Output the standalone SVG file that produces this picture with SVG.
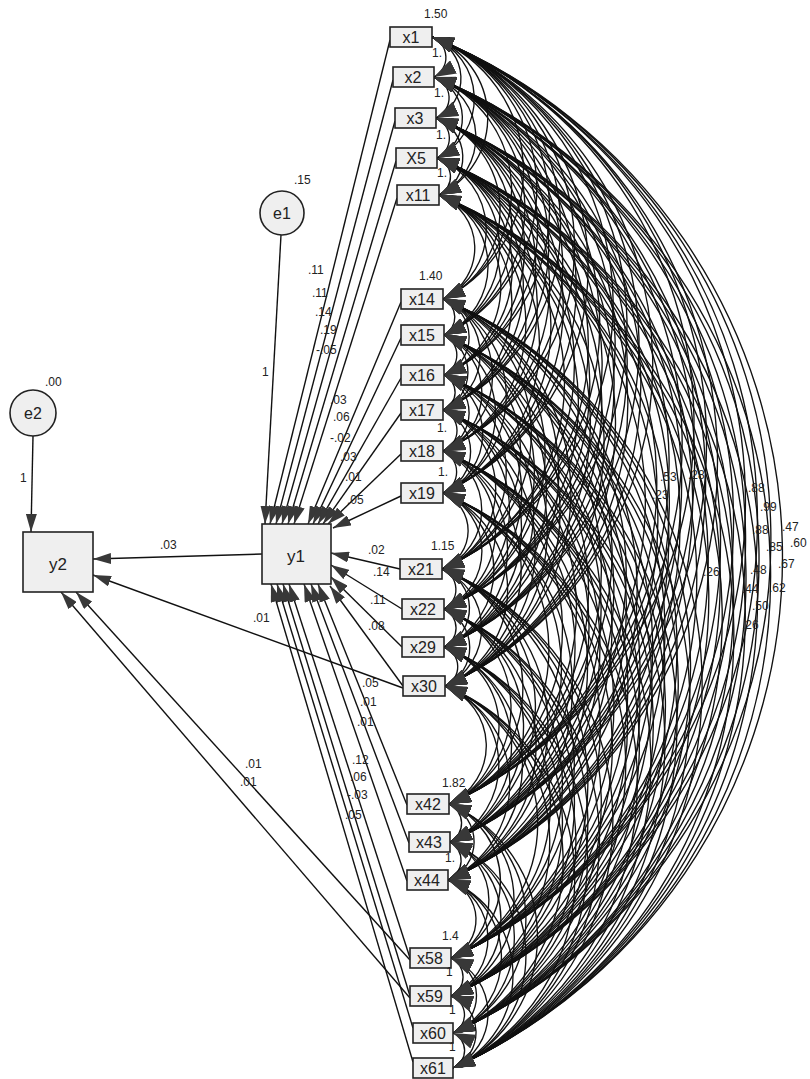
<svg xmlns="http://www.w3.org/2000/svg" width="810" height="1079" viewBox="0 0 810 1079">
<defs>
<marker id="ah" viewBox="0 0 22 15" refX="22" refY="7.5" markerWidth="22" markerHeight="15" markerUnits="userSpaceOnUse" orient="auto-start-reverse"><path d="M0 0L22 7.5L0 15z" fill="#383838"/></marker>
<marker id="ap" viewBox="0 0 18 11" refX="18" refY="5.5" markerWidth="18" markerHeight="11" markerUnits="userSpaceOnUse" orient="auto"><path d="M0 0L18 5.5L0 11z" fill="#383838"/></marker>
</defs>
<style>
.c path{fill:none;stroke:#111;stroke-width:1.35;marker-start:url(#ah);marker-end:url(#ah)}
.p path{fill:none;stroke:#111;stroke-width:1.4;marker-end:url(#ap)}
.box{fill:#efefef;stroke:#222;stroke-width:1.6}
.ell{fill:#efefef;stroke:#222;stroke-width:1.6}
.lb{font-family:"Liberation Sans",Arial,sans-serif;font-size:16px;fill:#222;text-anchor:middle}
.big{font-family:"Liberation Sans",Arial,sans-serif;font-size:17px;fill:#222;text-anchor:middle}
.n{font-family:"Liberation Sans",Arial,sans-serif;font-size:12px;fill:#222}
</style>
<rect width="810" height="1079" fill="#fff"/>
<g id="connectors">
<g id="covariances" class="c">
<path d="M432 37A22 22 0 0 1 434 77"/><path d="M432 37A44 44 0 0 1 436 118"/><path d="M432 37A66 66 0 0 1 437 158"/><path d="M432 37A86 86 0 0 1 439 195"/><path d="M432 37A143 143 0 0 1 443 299"/><path d="M432 37A162 162 0 0 1 444 335"/><path d="M432 37A184 184 0 0 1 444 375"/><path d="M432 37A203 203 0 0 1 443 410"/><path d="M432 37A225 225 0 0 1 443 451"/><path d="M432 37A248 248 0 0 1 443 493"/><path d="M432 37A289 289 0 0 1 442 569"/><path d="M432 37A311 311 0 0 1 444 609"/><path d="M432 37A332 332 0 0 1 444 647"/><path d="M432 37A353 353 0 0 1 445 686"/><path d="M432 37A417 417 0 0 1 449 804"/><path d="M432 37A438 438 0 0 1 450 842"/><path d="M432 37A459 459 0 0 1 448 880"/><path d="M432 37A501 501 0 0 1 451 958"/><path d="M432 37A522 522 0 0 1 451 996"/><path d="M432 37A542 542 0 0 1 453 1033"/><path d="M432 37A561 561 0 0 1 453 1068"/>
<path d="M434 77A22 22 0 0 1 436 118"/><path d="M434 77A44 44 0 0 1 437 158"/><path d="M434 77A64 64 0 0 1 439 195"/><path d="M434 77A121 121 0 0 1 443 299"/><path d="M434 77A140 140 0 0 1 444 335"/><path d="M434 77A162 162 0 0 1 444 375"/><path d="M434 77A181 181 0 0 1 443 410"/><path d="M434 77A203 203 0 0 1 443 451"/><path d="M434 77A226 226 0 0 1 443 493"/><path d="M434 77A268 268 0 0 1 442 569"/><path d="M434 77A289 289 0 0 1 444 609"/><path d="M434 77A310 310 0 0 1 444 647"/><path d="M434 77A331 331 0 0 1 445 686"/><path d="M434 77A395 395 0 0 1 449 804"/><path d="M434 77A416 416 0 0 1 450 842"/><path d="M434 77A437 437 0 0 1 448 880"/><path d="M434 77A479 479 0 0 1 451 958"/><path d="M434 77A500 500 0 0 1 451 996"/><path d="M434 77A520 520 0 0 1 453 1033"/><path d="M434 77A539 539 0 0 1 453 1068"/>
<path d="M436 118A22 22 0 0 1 437 158"/><path d="M436 118A42 42 0 0 1 439 195"/><path d="M436 118A98 98 0 0 1 443 299"/><path d="M436 118A118 118 0 0 1 444 335"/><path d="M436 118A140 140 0 0 1 444 375"/><path d="M436 118A159 159 0 0 1 443 410"/><path d="M436 118A181 181 0 0 1 443 451"/><path d="M436 118A204 204 0 0 1 443 493"/><path d="M436 118A245 245 0 0 1 442 569"/><path d="M436 118A267 267 0 0 1 444 609"/><path d="M436 118A288 288 0 0 1 444 647"/><path d="M436 118A309 309 0 0 1 445 686"/><path d="M436 118A373 373 0 0 1 449 804"/><path d="M436 118A394 394 0 0 1 450 842"/><path d="M436 118A415 415 0 0 1 448 880"/><path d="M436 118A457 457 0 0 1 451 958"/><path d="M436 118A478 478 0 0 1 451 996"/><path d="M436 118A498 498 0 0 1 453 1033"/><path d="M436 118A517 517 0 0 1 453 1068"/>
<path d="M437 158A20 20 0 0 1 439 195"/><path d="M437 158A77 77 0 0 1 443 299"/><path d="M437 158A96 96 0 0 1 444 335"/><path d="M437 158A118 118 0 0 1 444 375"/><path d="M437 158A137 137 0 0 1 443 410"/><path d="M437 158A159 159 0 0 1 443 451"/><path d="M437 158A182 182 0 0 1 443 493"/><path d="M437 158A224 224 0 0 1 442 569"/><path d="M437 158A245 245 0 0 1 444 609"/><path d="M437 158A266 266 0 0 1 444 647"/><path d="M437 158A287 287 0 0 1 445 686"/><path d="M437 158A351 351 0 0 1 449 804"/><path d="M437 158A372 372 0 0 1 450 842"/><path d="M437 158A393 393 0 0 1 448 880"/><path d="M437 158A435 435 0 0 1 451 958"/><path d="M437 158A456 456 0 0 1 451 996"/><path d="M437 158A476 476 0 0 1 453 1033"/><path d="M437 158A495 495 0 0 1 453 1068"/>
<path d="M439 195A57 57 0 0 1 443 299"/><path d="M439 195A76 76 0 0 1 444 335"/><path d="M439 195A98 98 0 0 1 444 375"/><path d="M439 195A117 117 0 0 1 443 410"/><path d="M439 195A139 139 0 0 1 443 451"/><path d="M439 195A162 162 0 0 1 443 493"/><path d="M439 195A203 203 0 0 1 442 569"/><path d="M439 195A225 225 0 0 1 444 609"/><path d="M439 195A246 246 0 0 1 444 647"/><path d="M439 195A267 267 0 0 1 445 686"/><path d="M439 195A331 331 0 0 1 449 804"/><path d="M439 195A352 352 0 0 1 450 842"/><path d="M439 195A373 373 0 0 1 448 880"/><path d="M439 195A415 415 0 0 1 451 958"/><path d="M439 195A436 436 0 0 1 451 996"/><path d="M439 195A456 456 0 0 1 453 1033"/><path d="M439 195A475 475 0 0 1 453 1068"/>
<path d="M443 299A20 20 0 0 1 444 335"/><path d="M443 299A41 41 0 0 1 444 375"/><path d="M443 299A60 60 0 0 1 443 410"/><path d="M443 299A83 83 0 0 1 443 451"/><path d="M443 299A106 106 0 0 1 443 493"/><path d="M443 299A147 147 0 0 1 442 569"/><path d="M443 299A169 169 0 0 1 444 609"/><path d="M443 299A189 189 0 0 1 444 647"/><path d="M443 299A211 211 0 0 1 445 686"/><path d="M443 299A275 275 0 0 1 449 804"/><path d="M443 299A295 295 0 0 1 450 842"/><path d="M443 299A316 316 0 0 1 448 880"/><path d="M443 299A358 358 0 0 1 451 958"/><path d="M443 299A379 379 0 0 1 451 996"/><path d="M443 299A399 399 0 0 1 453 1033"/><path d="M443 299A418 418 0 0 1 453 1068"/>
<path d="M444 335A22 22 0 0 1 444 375"/><path d="M444 335A41 41 0 0 1 443 410"/><path d="M444 335A63 63 0 0 1 443 451"/><path d="M444 335A86 86 0 0 1 443 493"/><path d="M444 335A127 127 0 0 1 442 569"/><path d="M444 335A149 149 0 0 1 444 609"/><path d="M444 335A170 170 0 0 1 444 647"/><path d="M444 335A191 191 0 0 1 445 686"/><path d="M444 335A255 255 0 0 1 449 804"/><path d="M444 335A276 276 0 0 1 450 842"/><path d="M444 335A296 296 0 0 1 448 880"/><path d="M444 335A339 339 0 0 1 451 958"/><path d="M444 335A360 360 0 0 1 451 996"/><path d="M444 335A380 380 0 0 1 453 1033"/><path d="M444 335A399 399 0 0 1 453 1068"/>
<path d="M444 375A19 19 0 0 1 443 410"/><path d="M444 375A41 41 0 0 1 443 451"/><path d="M444 375A64 64 0 0 1 443 493"/><path d="M444 375A106 106 0 0 1 442 569"/><path d="M444 375A127 127 0 0 1 444 609"/><path d="M444 375A148 148 0 0 1 444 647"/><path d="M444 375A169 169 0 0 1 445 686"/><path d="M444 375A233 233 0 0 1 449 804"/><path d="M444 375A254 254 0 0 1 450 842"/><path d="M444 375A275 275 0 0 1 448 880"/><path d="M444 375A317 317 0 0 1 451 958"/><path d="M444 375A338 338 0 0 1 451 996"/><path d="M444 375A358 358 0 0 1 453 1033"/><path d="M444 375A377 377 0 0 1 453 1068"/>
<path d="M443 410A22 22 0 0 1 443 451"/><path d="M443 410A45 45 0 0 1 443 493"/><path d="M443 410A86 86 0 0 1 442 569"/><path d="M443 410A108 108 0 0 1 444 609"/><path d="M443 410A129 129 0 0 1 444 647"/><path d="M443 410A150 150 0 0 1 445 686"/><path d="M443 410A214 214 0 0 1 449 804"/><path d="M443 410A235 235 0 0 1 450 842"/><path d="M443 410A256 256 0 0 1 448 880"/><path d="M443 410A298 298 0 0 1 451 958"/><path d="M443 410A319 319 0 0 1 451 996"/><path d="M443 410A339 339 0 0 1 453 1033"/><path d="M443 410A358 358 0 0 1 453 1068"/>
<path d="M443 451A23 23 0 0 1 443 493"/><path d="M443 451A64 64 0 0 1 442 569"/><path d="M443 451A86 86 0 0 1 444 609"/><path d="M443 451A107 107 0 0 1 444 647"/><path d="M443 451A128 128 0 0 1 445 686"/><path d="M443 451A192 192 0 0 1 449 804"/><path d="M443 451A213 213 0 0 1 450 842"/><path d="M443 451A233 233 0 0 1 448 880"/><path d="M443 451A276 276 0 0 1 451 958"/><path d="M443 451A296 296 0 0 1 451 996"/><path d="M443 451A317 317 0 0 1 453 1033"/><path d="M443 451A336 336 0 0 1 453 1068"/>
<path d="M443 493A41 41 0 0 1 442 569"/><path d="M443 493A63 63 0 0 1 444 609"/><path d="M443 493A84 84 0 0 1 444 647"/><path d="M443 493A105 105 0 0 1 445 686"/><path d="M443 493A169 169 0 0 1 449 804"/><path d="M443 493A190 190 0 0 1 450 842"/><path d="M443 493A211 211 0 0 1 448 880"/><path d="M443 493A253 253 0 0 1 451 958"/><path d="M443 493A274 274 0 0 1 451 996"/><path d="M443 493A294 294 0 0 1 453 1033"/><path d="M443 493A313 313 0 0 1 453 1068"/>
<path d="M442 569A22 22 0 0 1 444 609"/><path d="M442 569A42 42 0 0 1 444 647"/><path d="M442 569A64 64 0 0 1 445 686"/><path d="M442 569A128 128 0 0 1 449 804"/><path d="M442 569A149 149 0 0 1 450 842"/><path d="M442 569A169 169 0 0 1 448 880"/><path d="M442 569A212 212 0 0 1 451 958"/><path d="M442 569A232 232 0 0 1 451 996"/><path d="M442 569A252 252 0 0 1 453 1033"/><path d="M442 569A271 271 0 0 1 453 1068"/>
<path d="M444 609A21 21 0 0 1 444 647"/><path d="M444 609A42 42 0 0 1 445 686"/><path d="M444 609A106 106 0 0 1 449 804"/><path d="M444 609A127 127 0 0 1 450 842"/><path d="M444 609A147 147 0 0 1 448 880"/><path d="M444 609A190 190 0 0 1 451 958"/><path d="M444 609A211 211 0 0 1 451 996"/><path d="M444 609A231 231 0 0 1 453 1033"/><path d="M444 609A250 250 0 0 1 453 1068"/>
<path d="M444 647A21 21 0 0 1 445 686"/><path d="M444 647A85 85 0 0 1 449 804"/><path d="M444 647A106 106 0 0 1 450 842"/><path d="M444 647A127 127 0 0 1 448 880"/><path d="M444 647A169 169 0 0 1 451 958"/><path d="M444 647A190 190 0 0 1 451 996"/><path d="M444 647A210 210 0 0 1 453 1033"/><path d="M444 647A229 229 0 0 1 453 1068"/>
<path d="M445 686A64 64 0 0 1 449 804"/><path d="M445 686A85 85 0 0 1 450 842"/><path d="M445 686A106 106 0 0 1 448 880"/><path d="M445 686A148 148 0 0 1 451 958"/><path d="M445 686A169 169 0 0 1 451 996"/><path d="M445 686A189 189 0 0 1 453 1033"/><path d="M445 686A208 208 0 0 1 453 1068"/>
<path d="M449 804A21 21 0 0 1 450 842"/><path d="M449 804A41 41 0 0 1 448 880"/><path d="M449 804A84 84 0 0 1 451 958"/><path d="M449 804A104 104 0 0 1 451 996"/><path d="M449 804A125 125 0 0 1 453 1033"/><path d="M449 804A144 144 0 0 1 453 1068"/>
<path d="M450 842A21 21 0 0 1 448 880"/><path d="M450 842A63 63 0 0 1 451 958"/><path d="M450 842A84 84 0 0 1 451 996"/><path d="M450 842A104 104 0 0 1 453 1033"/><path d="M450 842A123 123 0 0 1 453 1068"/>
<path d="M448 880A42 42 0 0 1 451 958"/><path d="M448 880A63 63 0 0 1 451 996"/><path d="M448 880A83 83 0 0 1 453 1033"/><path d="M448 880A102 102 0 0 1 453 1068"/>
<path d="M451 958A21 21 0 0 1 451 996"/><path d="M451 958A41 41 0 0 1 453 1033"/><path d="M451 958A60 60 0 0 1 453 1068"/>
<path d="M451 996A20 20 0 0 1 453 1033"/><path d="M451 996A39 39 0 0 1 453 1068"/>
<path d="M453 1033A19 19 0 0 1 453 1068"/>
</g>
<g id="paths" class="p">
<path d="M281 235L265 524"/>
<path d="M33 436L31 532"/>
<path d="M390 40L270 524"/>
<path d="M393 80L276 524"/>
<path d="M395 121L282 524"/>
<path d="M396 161L288 524"/>
<path d="M397 198L294 524"/>
<path d="M401 302L308 524"/>
<path d="M401 338L313 524"/>
<path d="M401 378L318 524"/>
<path d="M401 413L323 524"/>
<path d="M401 454L328 524"/>
<path d="M401 496L333 528"/>
<path d="M400 569L331 553"/>
<path d="M402 609L331 565"/>
<path d="M402 647L331 577"/>
<path d="M403 686L330 586"/>
<path d="M407 805L318 584"/>
<path d="M409 843L311 584"/>
<path d="M407 881L304 584"/>
<path d="M410 958L289 584"/>
<path d="M410 996L283 584"/>
<path d="M413 1028L277 584"/>
<path d="M413 1062L271 584"/>
<path d="M262 554L93 559"/>
<path d="M403 688L93 575"/>
<path d="M410 960L76 592"/>
<path d="M410 998L61 592"/>
</g>
</g>
<g id="e1"><circle class="ell" cx="282" cy="213" r="22"/><text class="lb" x="282" y="219">e1</text></g>
<g id="e2"><circle class="ell" cx="33" cy="413" r="23"/><text class="lb" x="33" y="419">e2</text></g>
<g id="y1"><rect class="box" x="262" y="524" width="69" height="60"/><text class="big" x="296" y="562">y1</text></g>
<g id="y2"><rect class="box" x="23" y="532" width="70" height="60"/><text class="big" x="58" y="570">y2</text></g>
<g id="n-x1"><rect class="box" x="390" y="27" width="42" height="20"/><text class="lb" x="411" y="43">x1</text></g>
<g id="n-x2"><rect class="box" x="393" y="67" width="41" height="20"/><text class="lb" x="413" y="83">x2</text></g>
<g id="n-x3"><rect class="box" x="395" y="108" width="41" height="20"/><text class="lb" x="415" y="124">x3</text></g>
<g id="n-X5"><rect class="box" x="396" y="148" width="41" height="20"/><text class="lb" x="416" y="164">X5</text></g>
<g id="n-x11"><rect class="box" x="397" y="185" width="42" height="20"/><text class="lb" x="418" y="201">x11</text></g>
<g id="n-x14"><rect class="box" x="401" y="289" width="42" height="20"/><text class="lb" x="422" y="305">x14</text></g>
<g id="n-x15"><rect class="box" x="401" y="325" width="43" height="20"/><text class="lb" x="422" y="341">x15</text></g>
<g id="n-x16"><rect class="box" x="401" y="365" width="43" height="20"/><text class="lb" x="422" y="381">x16</text></g>
<g id="n-x17"><rect class="box" x="401" y="400" width="42" height="20"/><text class="lb" x="422" y="416">x17</text></g>
<g id="n-x18"><rect class="box" x="401" y="441" width="42" height="20"/><text class="lb" x="422" y="457">x18</text></g>
<g id="n-x19"><rect class="box" x="401" y="483" width="42" height="20"/><text class="lb" x="422" y="499">x19</text></g>
<g id="n-x21"><rect class="box" x="400" y="559" width="42" height="20"/><text class="lb" x="421" y="575">x21</text></g>
<g id="n-x22"><rect class="box" x="402" y="599" width="42" height="20"/><text class="lb" x="423" y="615">x22</text></g>
<g id="n-x29"><rect class="box" x="402" y="637" width="42" height="20"/><text class="lb" x="423" y="653">x29</text></g>
<g id="n-x30"><rect class="box" x="403" y="676" width="42" height="20"/><text class="lb" x="424" y="692">x30</text></g>
<g id="n-x42"><rect class="box" x="407" y="794" width="42" height="20"/><text class="lb" x="428" y="810">x42</text></g>
<g id="n-x43"><rect class="box" x="409" y="832" width="41" height="20"/><text class="lb" x="429" y="848">x43</text></g>
<g id="n-x44"><rect class="box" x="407" y="870" width="41" height="20"/><text class="lb" x="427" y="886">x44</text></g>
<g id="n-x58"><rect class="box" x="410" y="948" width="41" height="20"/><text class="lb" x="430" y="964">x58</text></g>
<g id="n-x59"><rect class="box" x="410" y="986" width="41" height="20"/><text class="lb" x="430" y="1002">x59</text></g>
<g id="n-x60"><rect class="box" x="413" y="1023" width="40" height="20"/><text class="lb" x="433" y="1039">x60</text></g>
<g id="n-x61"><rect class="box" x="413" y="1058" width="40" height="20"/><text class="lb" x="433" y="1074">x61</text></g>
<g id="labels">
<text class="n" x="294" y="184">.15</text>
<text class="n" x="45" y="386">.00</text>
<text class="n" x="424" y="18">1.50</text>
<text class="n" x="419" y="280">1.40</text>
<text class="n" x="431" y="550">1.15</text>
<text class="n" x="442" y="787">1.82</text>
<text class="n" x="442" y="940">1.4</text>
<text class="n" x="432" y="57">1.</text>
<text class="n" x="434" y="97">1.</text>
<text class="n" x="436" y="139">1.</text>
<text class="n" x="437" y="177">1.</text>
<text class="n" x="437" y="432">1.</text>
<text class="n" x="438" y="476">1.</text>
<text class="n" x="445" y="862">1.</text>
<text class="n" x="446" y="976">1</text>
<text class="n" x="449" y="1014">1</text>
<text class="n" x="449" y="1051">1</text>
<text class="n" x="262" y="376">1</text>
<text class="n" x="20" y="482">1</text>
<text class="n" x="308" y="274">.11</text>
<text class="n" x="312" y="297">.11</text>
<text class="n" x="315" y="316">.14</text>
<text class="n" x="320" y="334">.19</text>
<text class="n" x="316" y="354">-.05</text>
<text class="n" x="330" y="404">.03</text>
<text class="n" x="333" y="421">.06</text>
<text class="n" x="330" y="442">-.02</text>
<text class="n" x="340" y="461">.03</text>
<text class="n" x="345" y="481">.01</text>
<text class="n" x="347" y="504">.05</text>
<text class="n" x="368" y="554">.02</text>
<text class="n" x="373" y="576">.14</text>
<text class="n" x="370" y="604">.11</text>
<text class="n" x="368" y="630">.08</text>
<text class="n" x="160" y="549">.03</text>
<text class="n" x="253" y="622">.01</text>
<text class="n" x="245" y="768">.01</text>
<text class="n" x="240" y="786">.01</text>
<text class="n" x="362" y="687">.05</text>
<text class="n" x="360" y="706">.01</text>
<text class="n" x="357" y="726">.01</text>
<text class="n" x="352" y="764">.12</text>
<text class="n" x="350" y="781">.06</text>
<text class="n" x="347" y="799">-.03</text>
<text class="n" x="345" y="819">.05</text>
<text class="n" x="782" y="531">.47</text>
<text class="n" x="790" y="547">.60</text>
<text class="n" x="778" y="568">.67</text>
<text class="n" x="769" y="592">.62</text>
<text class="n" x="766" y="551">.85</text>
<text class="n" x="760" y="511">.99</text>
<text class="n" x="752" y="534">.88</text>
<text class="n" x="748" y="492">.88</text>
<text class="n" x="750" y="574">.48</text>
<text class="n" x="742" y="593">.44</text>
<text class="n" x="752" y="610">.50</text>
<text class="n" x="742" y="629">.26</text>
<text class="n" x="703" y="576">.26</text>
<text class="n" x="660" y="481">.53</text>
<text class="n" x="688" y="479">.28</text>
<text class="n" x="652" y="499">.23</text>
</g>
</svg>
